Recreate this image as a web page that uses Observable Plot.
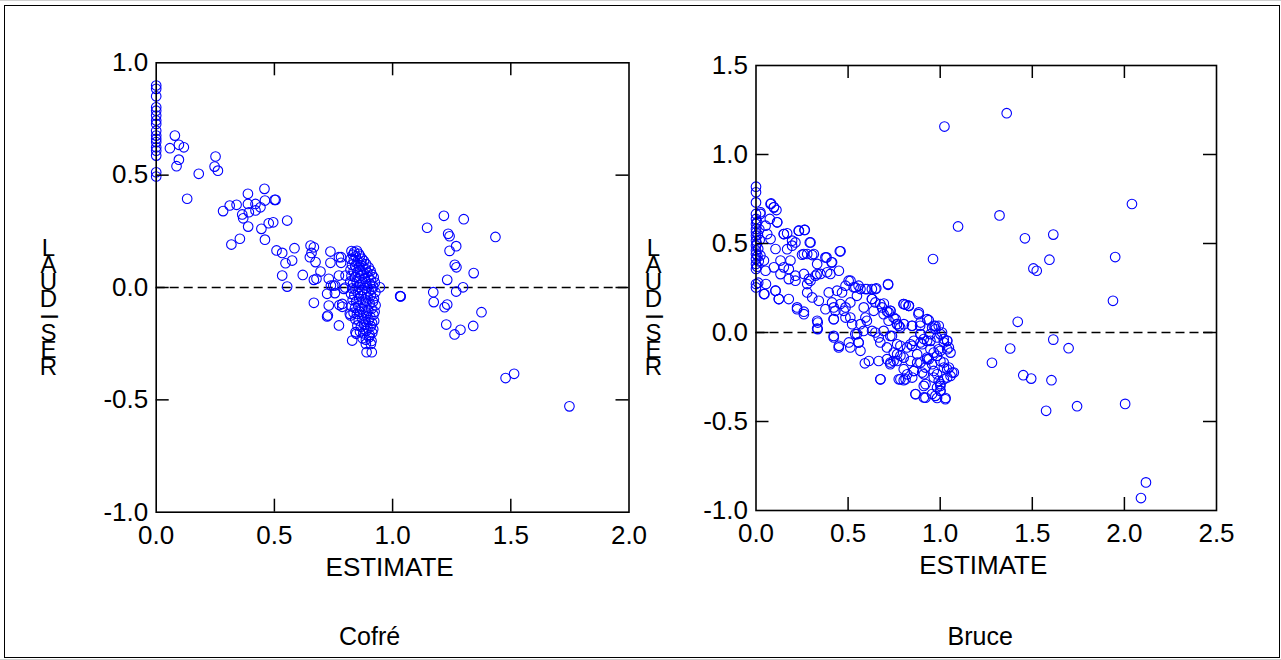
<!DOCTYPE html>
<html><head><meta charset="utf-8">
<script src="https://cdn.jsdelivr.net/npm/d3@7"></script>
<script src="https://cdn.jsdelivr.net/npm/@observablehq/plot@0.6"></script>
<style>
html,body{margin:0;padding:0;background:#fff;width:1281px;height:660px;overflow:hidden;}
#topline{position:absolute;left:0;top:0;width:1281px;height:1px;background:#d0d0d0;}
#botline{position:absolute;left:0;top:659px;width:1281px;height:1px;background:#d0d0d0;}
#frame{position:absolute;left:4px;top:5px;width:1274px;height:651px;border:1px solid #000;}
#left{position:absolute;left:0;top:0;}
#right{position:absolute;left:640px;top:0;}
</style></head><body>
<div id="topline"></div><div id="botline"></div><div id="frame"></div>
<div id="left"></div><div id="right"></div>
<script>
// ---------- data ----------
const cofreXTicks = [0, 0.5, 1, 1.5, 2];
const cofreYTicks = [-1, -0.5, 0, 0.5, 1];
const bruceXTicks = [0, 0.5, 1, 1.5, 2, 2.5];
const bruceYTicks = [-1, -0.5, 0, 0.5, 1, 1.5];
const xLabel = "ESTIMATE";
const yLabel = "RESIDUAL";
const captions = ["Cofré", "Bruce"];

// Cofré panel: [ESTIMATE, RESIDUAL]
const cofrePoints = [
[0,0.899],[0,0.884],[0,0.851],[0,0.802],[0,0.787],[0,0.765],[0,0.743],[0,0.728],[0,0.698],[0,0.676],[0,0.661],[0,0.647],[0,0.624],[0,0.609],[0,0.587],[0,0.513],[0,0.494],
[0.079,0.676],[0.058,0.620],[0.096,0.635],[0.117,0.624],[0.096,0.569],[0.086,0.540],[0.180,0.506],[0.251,0.583],[0.247,0.538],[0.261,0.520],[0.131,0.395],
[0.283,0.340],[0.311,0.365],[0.340,0.368],[0.318,0.191],[0.354,0.217],[0.364,0.325],[0.368,0.308],[0.388,0.417],[0.388,0.372],[0.392,0.335],[0.389,0.271],
[0.420,0.372],[0.420,0.343],[0.441,0.357],[0.458,0.439],[0.460,0.387],[0.505,0.390],[0.501,0.390],[0.445,0.261],[0.460,0.213],[0.476,0.286],[0.495,0.290],
[0.554,0.298],[0.509,0.165],[0.533,0.154],[0.585,0.175],[0.547,0.108],[0.575,0.120],[0.533,0.053],[0.554,0.004],[0.620,0.056],[0.653,0.187],[0.667,0.179],
[0.657,0.154],[0.650,0.135],[0.674,0.113],[0.695,0.071],[0.678,0.039],[0.667,0.034],[0.730,0.039],[0.737,0.160],[0.737,0.110],[0.667,-0.068],[0.723,-0.028],
[0.730,-0.080],[0.723,-0.129],[0.749,0.009],[0.756,-0.025],[0.773,0.135],[0.782,0.135],[0.782,0.110],[0.773,0.053],[0.801,0.053],[0.739,0.009],[0.757,0.009],
[0.794,-0.006],[0.800,0.000],[0.787,-0.073],[0.775,-0.078],[0.787,-0.086],[0.773,-0.169],[0.822,-0.125],[0.843,-0.199],[0.829,-0.236],[0.846,-0.206],
[0.887,-0.251],[0.908,-0.251],[0.890,-0.288],[0.912,-0.288],[0.726,-0.125],[0.819,-0.117],
[0.826,0.162],[0.838,0.158],[0.849,0.163],[0.857,0.150],[0.832,0.146],[0.844,0.139],[0.862,0.141],[0.871,0.128],[0.823,0.127],[0.836,0.121],[0.852,0.118],
[0.866,0.112],[0.879,0.118],[0.888,0.104],[0.828,0.101],[0.842,0.097],[0.858,0.092],[0.873,0.095],[0.886,0.083],[0.899,0.089],[0.907,0.074],[0.822,0.079],
[0.835,0.072],[0.851,0.069],[0.864,0.076],[0.878,0.064],[0.893,0.067],[0.912,0.058],[0.920,0.045],[0.826,0.052],[0.841,0.047],[0.856,0.041],[0.869,0.054],
[0.883,0.038],[0.898,0.046],[0.909,0.031],[0.925,0.022],[0.821,0.027],[0.833,0.019],[0.848,0.024],[0.862,0.013],[0.876,0.021],[0.891,0.009],[0.904,0.016],
[0.918,0.004],[0.829,-0.004],[0.843,-0.009],[0.857,0.002],[0.871,-0.011],[0.886,-0.003],[0.899,-0.017],[0.913,-0.008],[0.927,-0.021],[0.824,-0.028],
[0.838,-0.034],[0.853,-0.026],[0.866,-0.039],[0.881,-0.031],[0.894,-0.044],[0.908,-0.036],[0.921,-0.049],[0.831,-0.056],[0.846,-0.062],[0.859,-0.051],
[0.874,-0.066],[0.888,-0.058],[0.903,-0.071],[0.917,-0.063],[0.928,-0.079],[0.826,-0.083],[0.841,-0.091],[0.855,-0.084],[0.869,-0.097],[0.884,-0.089],
[0.897,-0.103],[0.911,-0.094],[0.924,-0.108],[0.835,-0.112],[0.849,-0.118],[0.863,-0.109],[0.877,-0.124],[0.891,-0.116],[0.906,-0.131],[0.919,-0.121],
[0.842,-0.141],[0.857,-0.147],[0.872,-0.138],[0.886,-0.152],[0.899,-0.144],[0.913,-0.158],[0.922,-0.149],[0.851,-0.169],[0.866,-0.174],[0.880,-0.166],
[0.894,-0.181],[0.908,-0.172],[0.918,-0.186],[0.862,-0.196],[0.876,-0.204],[0.889,-0.193],[0.903,-0.211],[0.914,-0.201],[0.873,-0.226],[0.887,-0.232],
[0.901,-0.221],[0.911,-0.238],
[0.946,0.001],[1.033,-0.039],[1.034,-0.040],[1.032,-0.038],
[1.146,0.266],[1.217,0.319],[1.301,0.304],[1.235,0.239],[1.241,0.228],[1.269,0.184],[1.241,0.163],[1.435,0.225],[1.263,0.101],[1.270,0.090],[1.343,0.064],
[1.231,0.034],[1.298,0.001],[1.269,-0.018],[1.172,-0.021],[1.174,-0.065],[1.220,-0.088],[1.231,-0.076],[1.376,-0.110],[1.227,-0.165],[1.341,-0.171],
[1.287,-0.188],[1.262,-0.209],[1.478,-0.403],[1.514,-0.384],[1.748,-0.529]
];

// Bruce panel: [ESTIMATE, RESIDUAL]
const brucePoints = [
[0,0.819],[0,0.788],[0,0.731],[0,0.666],[0,0.638],[0,0.610],[0,0.581],[0,0.563],[0,0.544],[0,0.516],[0,0.488],[0,0.460],[0,0.441],[0,0.413],[0,0.385],[0,0.357],[0,0.272],[0,0.253],
[0.006,0.620],[0.010,0.550],[0.004,0.500],[0.012,0.470],[0.008,0.430],[0.015,0.400],[0.006,0.370],[0.020,0.520],[0.018,0.580],[0.012,0.280],
[0.082,0.725],[0.097,0.703],[0.111,0.688],[0.024,0.675],[0.052,0.600],[0.075,0.638],[0.115,0.619],[0.061,0.553],[0.079,0.525],[0.106,0.469],[0.151,0.553],
[0.169,0.557],[0.196,0.516],[0.232,0.572],[0.263,0.576],[0.292,0.506],[0.250,0.437],[0.278,0.441],[0.305,0.435],[0.332,0.385],[0.383,0.422],[0.413,0.394],
[0.455,0.456],[0.404,0.329],[0.350,0.329],[0.323,0.319],[0.287,0.301],[0.260,0.329],[0.214,0.319],[0.178,0.357],[0.151,0.366],[0.133,0.404],[0.187,0.404],
[0.097,0.366],[0.043,0.404],[0.024,0.432],[0.052,0.347],[0.106,0.235],[0.124,0.188],[0.043,0.216],[0.178,0.188],[0.223,0.131],[0.260,0.103],[0.278,0.225],
[0.305,0.197],[0.341,0.178],[0.395,0.225],[0.413,0.169],[0.440,0.235],[0.467,0.225],[0.503,0.291],[0.530,0.254],[0.557,0.263],[0.593,0.244],[0.629,0.244],
[0.653,0.248],[0.717,0.268],[0.548,0.206],[0.512,0.169],[0.458,0.160],[0.422,0.141],[0.476,0.122],[0.512,0.084],[0.422,0.075],[0.335,0.056],[0.335,0.019],
[0.422,-0.028],[0.449,-0.084],[0.512,-0.084],[0.557,-0.056],[0.539,-0.009],[0.584,0.009],[0.602,0.066],[0.639,0.122],[0.629,0.188],[0.675,0.160],[0.693,0.103],
[0.729,0.122],[0.720,0.066],[0.747,0.084],[0.765,0.047],[0.801,0.160],[0.829,0.150],[0.783,0.028],[0.846,0.038],[0.882,0.103],[0.891,0.038],[0.591,-0.173],
[0.613,-0.160],[0.675,-0.263],[0.775,-0.263],[0.802,-0.268],[0.866,-0.346],[0.911,-0.365],[0.956,-0.346],[0.983,-0.368],[1.029,-0.368],[1.074,-0.225],
[1.056,-0.244],[1.038,-0.206],[1.001,-0.290],[1.020,-0.263],[0.983,-0.309],[0.920,-0.290],[0.902,-0.225],[0.857,-0.216],[0.821,-0.235],[0.802,-0.206],
[0.839,-0.160],[0.875,-0.122],[0.848,-0.075],[0.893,-0.056],[0.929,-0.047],[0.956,0.028],[0.974,0.038],[0.947,-0.009],[1.001,-0.009],[1.020,-0.056],
[1.038,-0.047],[1.047,-0.084],[1.001,-0.103],[0.965,-0.113],[0.929,-0.141],[0.956,-0.178],[1.001,-0.160],[1.020,-0.197],[0.920,-0.197],[0.766,-0.122],
[0.747,-0.160],[0.729,-0.178],[0.802,-0.141],[0.711,-0.084],[0.675,-0.056],[0.648,0.000],[0.729,-0.019],[0.766,-0.066],[0.820,-0.084],[0.548,-0.009],
[0.557,-0.056],[0.666,-0.160],[0.711,-0.150],[0.893,-0.009],[0.992,0.038],[0.929,0.075],[0.938,-0.150],[0.983,-0.235],[1.001,-0.327],[0.965,-0.253],[0.893,-0.169],
[0.694,0.163],[0.812,0.156],[0.830,0.150],[0.712,0.118],[0.730,0.122],[0.758,0.075],[0.776,0.038],[0.803,0.047],[0.848,0.038],[0.884,0.113],[0.893,0.056],
[0.938,0.069],[0.965,0.038],[0.974,0.019],[1.010,0.000],[1.019,-0.037],[1.038,-0.047],[0.983,-0.028],[0.947,-0.047],[0.911,-0.037],[0.893,-0.009],[0.857,-0.047],
[0.839,-0.066],[0.784,-0.075],[0.748,-0.113],[0.730,-0.169],[0.766,-0.160],[0.784,-0.131],[0.676,-0.263],[0.784,-0.263],[0.812,-0.263],[0.848,-0.253],
[0.857,-0.216],[0.875,-0.169],[0.929,-0.150],[0.911,-0.235],[0.965,-0.216],[0.992,-0.272],[1.001,-0.300],[1.038,-0.253],[1.065,-0.225],[1.047,-0.197],
[1.019,-0.169],[0.983,-0.131],[0.992,-0.094],[1.038,-0.094],[1.056,-0.113],[0.947,-0.094],[0.902,-0.066],[0.866,-0.347],[0.920,-0.366],[0.974,-0.356],
[1.028,-0.375],[0.911,-0.300],[1.001,-0.328],
[0.079,0.722],[0.097,0.703],[0.024,0.666],[0.115,0.619],[0.151,0.553],[0.233,0.572],[0.265,0.576],[0.296,0.506],[0.459,0.456],[0.214,0.506],[0.169,0.468],
[0.196,0.488],[0.260,0.441],[0.314,0.441],[0.377,0.422],[0.410,0.394],[0.450,0.347],[0.386,0.338],[0.332,0.328],[0.296,0.291],[0.278,0.272],[0.214,0.291],
[0.178,0.300],[0.133,0.328],[0.106,0.235],[0.124,0.188],[0.054,0.272],[0.046,0.216],[0.223,0.141],[0.260,0.117],[0.332,0.066],[0.332,0.022],[0.422,-0.019],
[0.450,-0.075],[0.504,-0.056],[0.567,-0.103],[0.486,0.263],[0.513,0.291],[0.540,0.253],[0.567,0.244],[0.603,0.244],[0.648,0.244],[0.717,0.272],[0.630,0.188],
[0.648,0.169],[0.684,0.141],[0.720,0.113],[0.585,0.141],[0.594,0.084],[0.486,0.084],[0.431,0.122],[0.422,0.075],[0.377,0.131],[0.486,0.141],[0.522,0.047],
[0.567,0.047],[0.630,0.009],[0.666,-0.028],[0.693,0.009],[0.738,-0.019],[0.766,0.047],[0.802,0.160],[0.830,0.150],
[1.023,1.157],[1.361,1.232],[1.097,0.596],[1.322,0.658],[2.041,0.722],[1.460,0.529],[1.614,0.550],[0.961,0.413],[1.506,0.360],[1.524,0.347],[1.593,0.409],
[1.950,0.424],[1.938,0.178],[1.421,0.060],[1.614,-0.040],[1.380,-0.090],[1.697,-0.088],[1.281,-0.170],[1.451,-0.240],[1.494,-0.259],[1.604,-0.268],
[1.575,-0.440],[1.743,-0.414],[2.004,-0.401],[2.117,-0.842],[2.090,-0.930]
];

// ---------- drawing ----------
const font = "'Liberation Sans', Arial, Helvetica, sans-serif";
const fmt = d => d.toFixed(1);

function panel(o) {
  const fw = o.width - o.ml - o.mr, fh = o.height - o.mt - o.mb;
  const tickLen = 13;
  const innerX = o.xTicks.slice(1, -1), innerY = o.yTicks.slice(1, -1);
  const letters = Array.from(yLabel).map((ch, i) =>
    Plot.text([ch], {frameAnchor: "top-left", dx: o.letterDx, dy: o.letterDy - i * 17,
      textAnchor: "middle", lineAnchor: "middle", fontSize: 24, rotate: ch === "I" ? 90 : 0}));
  return Plot.plot({
    width: o.width, height: o.height,
    marginTop: o.mt, marginRight: o.mr, marginBottom: o.mb, marginLeft: o.ml,
    style: {fontFamily: font, fontSize: "26px", background: "transparent", color: "#000", overflow: "visible"},
    x: {domain: [o.xTicks[0], o.xTicks[o.xTicks.length - 1]]},
    y: {domain: [o.yTicks[0], o.yTicks[o.yTicks.length - 1]]},
    marks: [
      Plot.ruleY([0], {stroke: "#000", strokeWidth: 1.5, strokeDasharray: "9,5"}),
      Plot.dot(o.points, {x: d => d[0], y: d => d[1], r: 4.8, stroke: "#0000ff", strokeWidth: 1.1, fill: "none"}),
      Plot.tickX(innerX, {x: d => d, insetTop: fh - tickLen, stroke: "#000", strokeWidth: 1.5}),
      Plot.tickX(innerX, {x: d => d, insetBottom: fh - tickLen, stroke: "#000", strokeWidth: 1.5}),
      Plot.tickY(innerY, {y: d => d, insetRight: fw - tickLen, stroke: "#000", strokeWidth: 1.5}),
      Plot.tickY(innerY, {y: d => d, insetLeft: fw - tickLen, stroke: "#000", strokeWidth: 1.5}),
      Plot.frame({stroke: "#000", strokeWidth: 1.6}),
      Plot.axisX(o.xTicks, {anchor: "bottom", tickSize: 0, tickPadding: 13, tickFormat: fmt, fontSize: 26, label: null}),
      Plot.axisY(o.yTicks, {anchor: "left", tickSize: 0, tickPadding: 8, tickFormat: fmt, fontSize: 26, label: null}),
      Plot.text([xLabel], {frameAnchor: "bottom", dx: -3, dy: 55, fontSize: 26, lineAnchor: "middle"}),
      Plot.text([o.caption], {frameAnchor: "bottom", dx: o.capDx, dy: o.capDy, fontSize: 25, lineAnchor: "middle"}),
      ...letters
    ]
  });
}

document.getElementById("left").append(panel({
  points: cofrePoints, xTicks: cofreXTicks, yTicks: cofreYTicks,
  width: 640, height: 660, mt: 62.3, mr: 11.5, mb: 148.3, ml: 155.7,
  caption: captions[0], capDx: -23, capDy: 124.3,
  letterDx: -107.7, letterDy: 367 - 62.3
}));
document.getElementById("right").append(panel({
  points: brucePoints, xTicks: bruceXTicks, yTicks: bruceYTicks,
  width: 641, height: 660, mt: 65, mr: 65, mb: 150, ml: 115.5,
  caption: captions[1], capDx: -6, capDy: 126,
  letterDx: -102.5, letterDy: 367 - 65
}));
</script></body></html>
